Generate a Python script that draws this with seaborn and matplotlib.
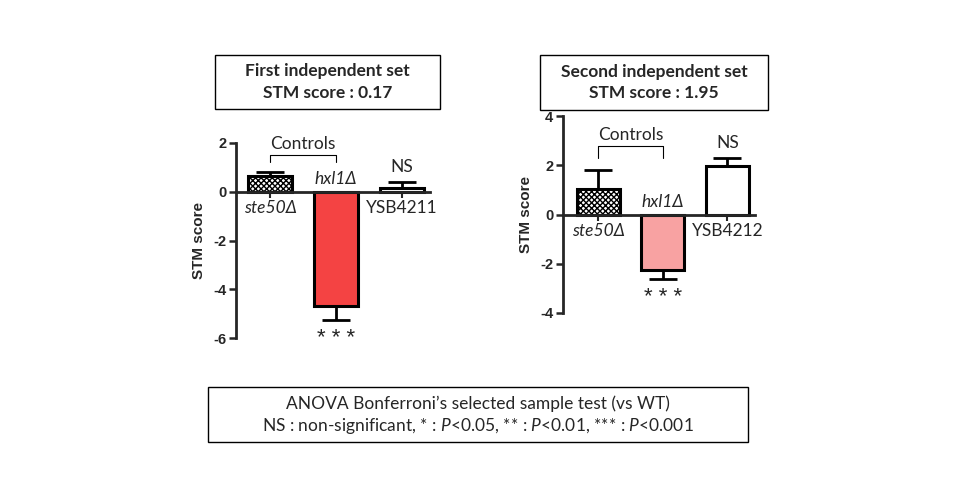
import pandas as pd
import seaborn as sns
import matplotlib.pyplot as plt
from matplotlib.patches import Rectangle

# data
set1_strains = ["ste50Δ", "hxl1Δ", "YSB4211"]
set1_scores = [0.65, -4.7, 0.15]
set1_err = [0.17, 0.55, 0.25]
set1_signif = ["", "***", "NS"]
set1_colors = ["white", "#F44343", "white"]

set2_strains = ["ste50Δ", "hxl1Δ", "YSB4212"]
set2_scores = [1.05, -2.25, 1.95]
set2_err = [0.77, 0.37, 0.35]
set2_signif = ["", "***", "NS"]
set2_colors = ["white", "#F8A2A2", "white"]

italic_names = {"ste50Δ", "hxl1Δ"}

sns.set_style("white")
plt.rcParams["font.family"] = ["Lato", "DejaVu Sans"]
plt.rcParams["mathtext.fontset"] = "custom"
plt.rcParams["mathtext.rm"] = "Lato"
plt.rcParams["mathtext.it"] = "Lato:italic"
plt.rcParams["hatch.linewidth"] = 1.0

fig = plt.figure(figsize=(9.6, 5), dpi=100)
W, H = 960, 500
TXT = 12.5


def px_axes(l, t, r, b):
    return fig.add_axes([l / W, 1 - b / H, (r - l) / W, (b - t) / H])


def draw_panel(ax, strains, scores, err, signif, colors, ylim, yticks, xlim, bracket):
    df = pd.DataFrame({"strain": strains, "score": scores})
    sns.barplot(data=df, x="strain", y="score", hue="strain", palette=colors,
                ax=ax, legend=False, width=0.67, edgecolor="black",
                linewidth=2.2, saturation=1)
    ax.patches[0].set_hatch("xxxxxx")

    lower = [e if s < 0 else 0 for s, e in zip(scores, err)]
    upper = [e if s >= 0 else 0 for s, e in zip(scores, err)]
    ax.errorbar(range(len(scores)), scores, yerr=[lower, upper], fmt="none",
                ecolor="black", elinewidth=2, capsize=10, capthick=2, zorder=5)

    ax.set_xlim(*xlim)
    ax.set_ylim(*ylim)
    ax.set_yticks(yticks)
    ax.set_yticklabels([str(t) for t in yticks], fontfamily="Liberation Sans",
                       fontweight="bold", fontsize=10.5)
    ax.set_xlabel("")
    ax.set_ylabel("STM score", fontfamily="Liberation Sans", fontweight="bold",
                  fontsize=11, labelpad=5)
    ax.set_xticks(range(len(strains)))
    ax.set_xticklabels([])
    ax.tick_params(axis="y", direction="out", length=5, width=1.8, left=True, pad=2)
    ax.tick_params(axis="x", direction="out", length=4, width=1.5, bottom=True)
    for side in ["top", "right"]:
        ax.spines[side].set_visible(False)
    ax.spines["left"].set_linewidth(2)
    ax.spines["bottom"].set_linewidth(2)
    ax.spines["bottom"].set_position(("data", 0))
    ax.set_facecolor("none")

    for i, (name, s, e, sig) in enumerate(zip(strains, scores, err, signif)):
        style = "italic" if name in italic_names else "normal"
        if s >= 0:
            ax.annotate(name, (i, 0), xytext=(0, -12), textcoords="offset points",
                        ha="center", va="center", fontsize=TXT, fontstyle=style)
        else:
            ax.annotate(name, (i, 0), xytext=(0, 9), textcoords="offset points",
                        ha="center", va="center", fontsize=TXT, fontstyle=style)
        if sig == "NS":
            ax.annotate(sig, (i, s + e), xytext=(0, 11), textcoords="offset points",
                        ha="center", va="center", fontsize=TXT)
        elif sig:
            ax.annotate(" ".join(sig), (i, s - e), xytext=(0, -6),
                        textcoords="offset points", ha="center", va="top",
                        fontsize=16, fontfamily="Liberation Sans")

    y0, y1 = bracket
    ax.plot([0, 0, 1, 1], [y0, y1, y1, y0], color="black", lw=0.8, clip_on=False)
    ax.annotate("Controls", (0.5, y1), xytext=(0, 8), textcoords="offset points",
                ha="center", va="center", fontsize=TXT)


ax1 = px_axes(236, 143, 430, 338)
draw_panel(ax1, set1_strains, set1_scores, set1_err, set1_signif, set1_colors,
           (-6, 2), [-6, -4, -2, 0, 2], (-0.52, 2.43), (1.22, 1.5))

ax2 = px_axes(563, 116, 755, 313)
draw_panel(ax2, set2_strains, set2_scores, set2_err, set2_signif, set2_colors,
           (-4, 4), [-4, -2, 0, 2, 4], (-0.55, 2.43), (2.3, 2.78))


def px_box(l, t, r, b, lines, bold=False, size=TXT):
    fig.patches.append(Rectangle((l / W, 1 - b / H), (r - l) / W, (b - t) / H,
                                 transform=fig.transFigure, fill=False,
                                 edgecolor="black", linewidth=1.0))
    n = len(lines)
    yc0 = (t + b) / 2 - 22 * (n - 1) / 2
    for k, line in enumerate(lines):
        fig.text((l + r) / 2 / W, 1 - (yc0 + 22 * k) / H, line, ha="center",
                 va="center", fontsize=size, fontweight="bold" if bold else "normal")


px_box(215, 55, 440, 109, ["First independent set", "STM score : 0.17"], bold=True)
px_box(540, 55, 768, 110, ["Second independent set", "STM score : 1.95"], bold=True)
px_box(208, 387, 748, 442, [
    "ANOVA Bonferroni’s selected sample test (vs WT)",
    r"NS : non-significant, * : $\mathit{P}$<0.05, ** : $\mathit{P}$<0.01, *** : $\mathit{P}$<0.001",
])

fig.savefig("out.png", dpi=100)
